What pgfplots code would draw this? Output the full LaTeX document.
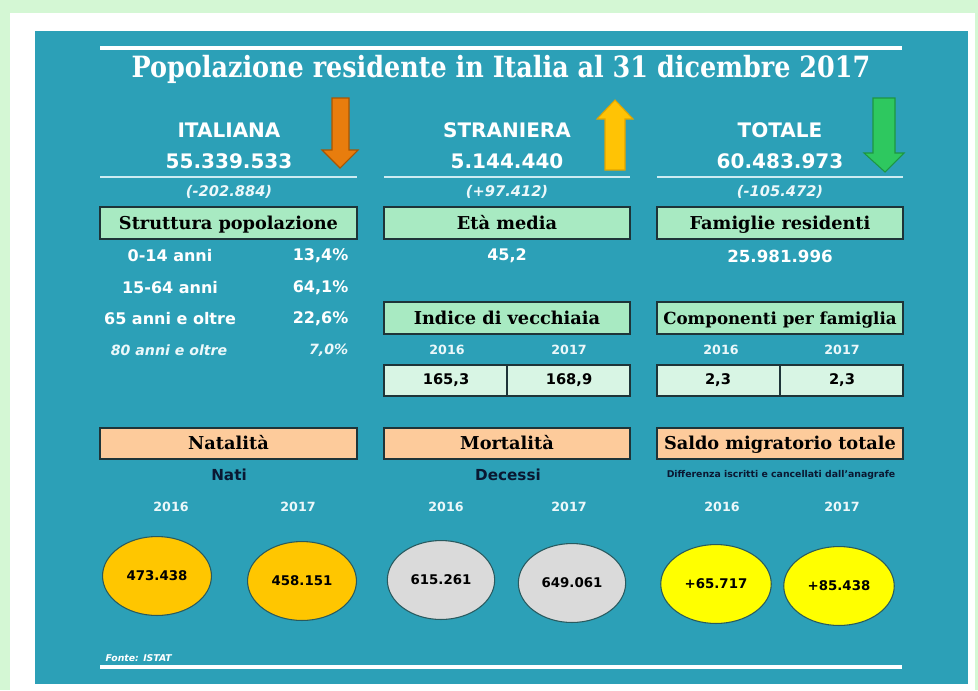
\documentclass[border=0pt]{standalone}
\usepackage{fontspec}
\setmainfont{DejaVu Sans}
\newfontfamily\serifb{DejaVu Serif}
\usepackage{graphicx}
\usepackage{pgfplots}
\pgfplotsset{compat=1.18}
\usepackage{pgfplotstable}

\definecolor{bggreen}{RGB}{212,247,212}
\definecolor{bgteal}{RGB}{44,160,183}
\definecolor{hline}{RGB}{205,236,242}
\definecolor{boxgreen}{RGB}{168,234,194}
\definecolor{boxlight}{RGB}{216,245,228}
\definecolor{boxpeach}{RGB}{253,203,155}
\definecolor{boxborder}{RGB}{30,52,56}
\definecolor{navy}{RGB}{10,24,50}
\definecolor{ellorange}{RGB}{255,198,0}
\definecolor{ellgray}{RGB}{218,218,218}
\definecolor{ellyellow}{RGB}{255,255,0}
\definecolor{ellborder}{RGB}{40,90,95}
\definecolor{arrorange}{RGB}{232,125,13}
\definecolor{arrorangeD}{RGB}{170,85,0}
\definecolor{arryellow}{RGB}{255,195,5}
\definecolor{arryellowD}{RGB}{225,165,0}
\definecolor{arrgreen}{RGB}{46,200,95}
\definecolor{arrgreenD}{RGB}{30,150,65}
\definecolor{soft}{RGB}{236,248,250}

\newcommand{\fs}[1]{\fontsize{#1}{#1}\selectfont}
\tikzset{bt/.style={text=black, font=\serifb\bfseries\fs{13.3}, anchor=base}}

% ellipse data: x y label (pixel positions of the infographic)
\pgfplotstableread{
x y label
157 576 473.438
302 581 458.151
}\natitab
\pgfplotstableread{
x y label
441 580 615.261
572 583 649.061
}\morttab
\pgfplotstableread{
x y label
716 584 +65.717
839 586 +85.438
}\migrtab

\begin{document}
\begin{tikzpicture}
\begin{axis}[
  x=0.75pt, y=0.75pt, y dir=reverse,
  xmin=0, xmax=978, ymin=0, ymax=690,
  hide axis, clip=false,
  ell/.style={only marks, mark=*, mark size=29.6pt,
    nodes near coords, point meta=explicit symbolic,
    nodes near coords align=center,
    every node near coord/.append style={font=\bfseries\fs{10}, text=black}},
]
% backgrounds
\fill[bggreen] (axis cs:0,0) rectangle (axis cs:978,690);
\fill[white] (axis cs:10,13) rectangle (axis cs:975,690);
\fill[bgteal] (axis cs:35,31) rectangle (axis cs:968,684);

% title
\draw[white, line width=2.3pt] (axis cs:100,48) -- (axis cs:902,48);
\node[text=white, anchor=base] at (axis cs:501,77) {\scalebox{1}[1.15]{\resizebox{554pt}{!}{\serifb\bfseries\fs{22}Popolazione residente in Italia al 31 dicembre 2017}}};

% headers
\node[text=white, font=\bfseries\fs{15}] at (axis cs:229,130.5) {ITALIANA};
\node[text=white, font=\bfseries\fs{15}] at (axis cs:229,161.5) {55.339.533};
\node[text=white, font=\bfseries\fs{15}] at (axis cs:507,130.5) {STRANIERA};
\node[text=white, font=\bfseries\fs{15}] at (axis cs:507,161.5) {5.144.440};
\node[text=white, font=\bfseries\fs{15}] at (axis cs:780,130.5) {TOTALE};
\node[text=white, font=\bfseries\fs{15}] at (axis cs:780,161.5) {60.483.973};

% arrows
\filldraw[fill=arrorange, draw=arrorangeD, line width=0.8pt]
  (axis cs:332,98) -- (axis cs:349,98) -- (axis cs:349,150) -- (axis cs:358,150)
  -- (axis cs:340,168) -- (axis cs:322,150) -- (axis cs:332,150) -- cycle;
\filldraw[fill=arryellow, draw=arryellowD, line width=0.8pt]
  (axis cs:605,170) -- (axis cs:625,170) -- (axis cs:625,119) -- (axis cs:633,119)
  -- (axis cs:615,100) -- (axis cs:597,119) -- (axis cs:605,119) -- cycle;
\filldraw[fill=arrgreen, draw=arrgreenD, line width=0.8pt]
  (axis cs:873,98) -- (axis cs:895,98) -- (axis cs:895,153) -- (axis cs:904,153)
  -- (axis cs:885,172) -- (axis cs:864,153) -- (axis cs:873,153) -- cycle;

% rules under headers
\draw[hline, line width=1.3pt] (axis cs:100,177) -- (axis cs:357,177);
\draw[hline, line width=1.3pt] (axis cs:384,177) -- (axis cs:630,177);
\draw[hline, line width=1.3pt] (axis cs:657,177) -- (axis cs:903,177);

% changes
\node[text=soft, font=\bfseries\itshape\fs{11}] at (axis cs:229,192) {(-202.884)};
\node[text=soft, font=\bfseries\itshape\fs{11}] at (axis cs:507,192) {(+97.412)};
\node[text=soft, font=\bfseries\itshape\fs{11}] at (axis cs:780,192) {(-105.472)};

% green boxes
\filldraw[fill=boxgreen, draw=boxborder, line width=0.9pt] (axis cs:100,207) rectangle (axis cs:357,239);
\filldraw[fill=boxgreen, draw=boxborder, line width=0.9pt] (axis cs:384,207) rectangle (axis cs:630,239);
\filldraw[fill=boxgreen, draw=boxborder, line width=0.9pt] (axis cs:657,207) rectangle (axis cs:903,239);
\node[bt] at (axis cs:228.5,229) {Struttura popolazione};
\node[bt] at (axis cs:507,229) {Età media};
\node[bt] at (axis cs:780,229) {Famiglie residenti};

% structure rows
\node[text=white, font=\bfseries\fs{12}] at (axis cs:170,256) {0-14 anni};
\node[text=white, font=\bfseries\fs{12}, anchor=east] at (axis cs:353,256) {13,4\%};
\node[text=white, font=\bfseries\fs{12}] at (axis cs:170,288) {15-64 anni};
\node[text=white, font=\bfseries\fs{12}, anchor=east] at (axis cs:353,288) {64,1\%};
\node[text=white, font=\bfseries\fs{12}] at (axis cs:170,319) {65 anni e oltre};
\node[text=white, font=\bfseries\fs{12}, anchor=east] at (axis cs:353,319) {22,6\%};
\node[text=soft, font=\bfseries\itshape\fs{10.6}] at (axis cs:169,350) {80 anni e oltre};
\node[text=soft, font=\bfseries\itshape\fs{10.6}, anchor=east] at (axis cs:353,350) {7,0\%};

\node[text=white, font=\bfseries\fs{12}] at (axis cs:507,256) {45,2};
\node[text=white, font=\bfseries\fs{12.5}] at (axis cs:780,256) {25.981.996};

% second row of boxes
\filldraw[fill=boxgreen, draw=boxborder, line width=0.9pt] (axis cs:384,302) rectangle (axis cs:630,334);
\filldraw[fill=boxgreen, draw=boxborder, line width=0.9pt] (axis cs:657,302) rectangle (axis cs:903,334);
\node[bt] at (axis cs:507,324) {Indice di vecchiaia};
\node[bt, font=\serifb\bfseries\fs{12.5}] at (axis cs:780,324) {Componenti per famiglia};

\node[text=soft, font=\bfseries\fs{9.5}] at (axis cs:447,350) {2016};
\node[text=soft, font=\bfseries\fs{9.5}] at (axis cs:569,350) {2017};
\node[text=soft, font=\bfseries\fs{9.5}] at (axis cs:721,350) {2016};
\node[text=soft, font=\bfseries\fs{9.5}] at (axis cs:842,350) {2017};

\filldraw[fill=boxlight, draw=boxborder, line width=0.9pt] (axis cs:384,365) rectangle (axis cs:630,396);
\draw[boxborder, line width=0.9pt] (axis cs:507,365) -- (axis cs:507,396);
\filldraw[fill=boxlight, draw=boxborder, line width=0.9pt] (axis cs:657,365) rectangle (axis cs:903,396);
\draw[boxborder, line width=0.9pt] (axis cs:780,365) -- (axis cs:780,396);
\node[text=black, font=\bfseries\fs{11}] at (axis cs:446,380.5) {165,3};
\node[text=black, font=\bfseries\fs{11}] at (axis cs:569,380.5) {168,9};
\node[text=black, font=\bfseries\fs{11}] at (axis cs:718,380.5) {2,3};
\node[text=black, font=\bfseries\fs{11}] at (axis cs:842,380.5) {2,3};

% peach boxes
\filldraw[fill=boxpeach, draw=boxborder, line width=0.9pt] (axis cs:100,428) rectangle (axis cs:357,459);
\filldraw[fill=boxpeach, draw=boxborder, line width=0.9pt] (axis cs:384,428) rectangle (axis cs:630,459);
\filldraw[fill=boxpeach, draw=boxborder, line width=0.9pt] (axis cs:657,428) rectangle (axis cs:903,459);
\node[bt] at (axis cs:228.5,449) {Natalità};
\node[bt] at (axis cs:507,449) {Mortalità};
\node[bt] at (axis cs:780,449) {Saldo migratorio totale};

\node[text=navy, font=\bfseries\fs{11.4}] at (axis cs:229,475) {Nati};
\node[text=navy, font=\bfseries\fs{11.4}] at (axis cs:508,475) {Decessi};
\node[text=navy, font=\bfseries\fs{7}] at (axis cs:781,475) {Differenza iscritti e cancellati dall'anagrafe};

\node[text=soft, font=\bfseries\fs{9.5}] at (axis cs:171,507) {2016};
\node[text=soft, font=\bfseries\fs{9.5}] at (axis cs:298,507) {2017};
\node[text=soft, font=\bfseries\fs{9.5}] at (axis cs:446,507) {2016};
\node[text=soft, font=\bfseries\fs{9.5}] at (axis cs:569,507) {2017};
\node[text=soft, font=\bfseries\fs{9.5}] at (axis cs:722,507) {2016};
\node[text=soft, font=\bfseries\fs{9.5}] at (axis cs:842,507) {2017};

% ellipses with values
\addplot[ell, mark options={xscale=1.38, fill=ellorange, draw=ellborder, line width=0.8pt}]
  table[x=x, y=y, meta=label] {\natitab};
\addplot[ell, mark options={xscale=1.36, fill=ellgray, draw=ellborder, line width=0.8pt}]
  table[x=x, y=y, meta=label] {\morttab};
\addplot[ell, mark options={xscale=1.40, fill=ellyellow, draw=ellborder, line width=0.8pt}]
  table[x=x, y=y, meta=label] {\migrtab};

% footer
\node[text=white, font=\bfseries\itshape\fs{7}, anchor=west] at (axis cs:101,658) {Fonte: ISTAT};
\draw[white, line width=2.3pt] (axis cs:100,667) -- (axis cs:902,667);
\end{axis}
\end{tikzpicture}
\end{document}
